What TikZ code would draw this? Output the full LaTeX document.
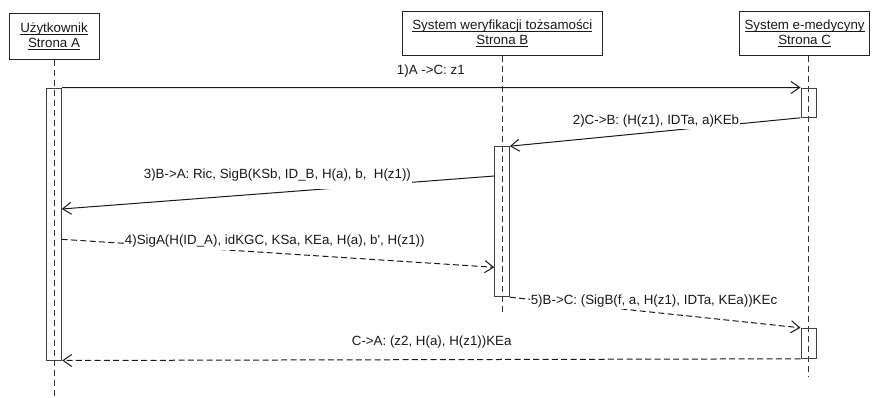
\documentclass[tikz,border=0pt]{standalone}
\usepackage{fontspec}
\setmainfont{Liberation Sans}
\usetikzlibrary{arrows.meta,fit}
\newsavebox\ulbox
\newcommand\ulx[1]{\sbox\ulbox{#1}\rlap{\rule[-1.7pt]{\wd\ulbox}{0.6pt}}\usebox\ulbox}
\begin{document}
\begin{tikzpicture}[x=0.75pt,y=-0.75pt,
  font=\fontsize{10}{11.25}\selectfont,
  hdr/.style={draw=black!85, line width=0.75pt, align=center, inner sep=0pt, text=black!90},
  act/.style={draw=black!75, line width=0.75pt, inner sep=0pt},
  life/.style={draw=black!80, line width=0.75pt, dash pattern=on 4.5pt off 3pt},
  msg/.style={draw=black!90, line width=0.75pt, -{Straight Barb[length=6.5pt,width=9pt]}},
  rmsg/.style={msg, dash pattern=on 4.5pt off 2.5pt},
  lbl/.style={fill=white, inner xsep=0.5pt, inner ysep=1.9pt, text height=7pt, text depth=2pt, text=black!90}]
\useasboundingbox (0,0) rectangle (872,397);

% headers
\node[hdr, minimum width=67.5pt, minimum height=34.5pt] (hA) at (54,36) {\ulx{Użytkownik}\\\ulx{Strona A}};
\node[hdr, minimum width=149.5pt, minimum height=33pt] (hB) at (502.35,33) {\ulx{System weryfikacji tożsamości}\\\ulx{Strona B}};
\node[hdr, minimum width=98pt, minimum height=33pt] (hC) at (804.6,33.8) {\ulx{System e-medycyny}\\\ulx{Strona C}};

% lifeline ends
\coordinate (eA) at (54,397);
\coordinate (eB) at (502,313);
\coordinate (eC) at (808.7,377);
\draw[life] (hA.south -| eA) -- (eA);
\draw[life] (hB.south -| eB) -- (eB);
\draw[life] (hC.south -| eC) -- (eC);

% activations
\node[act, fit={(46.3,88) (61.7,360)}] (aA) {};
\node[act, fit={(494.3,146.7) (509.3,296.7)}] (aB) {};
\node[act, fit={(801,88) (816,117.3)}] (aC1) {};
\node[act, fit={(801,328.3) (816,358.3)}] (aC2) {};

% message end points
\coordinate (m3s) at (494.3,176);
\coordinate (m3e) at (61.7,209);
\coordinate (m4s) at (61.7,239.3);
\coordinate (m4e) at (494.3,267.3);

% messages
\draw[msg] (aA.north east) -- (aC1.north west);
\draw[msg] (aC1.south west) -- (aB.north east);
\draw[msg] (m3s) -- (m3e);
\draw[rmsg] (m4s) -- (m4e);
\draw[rmsg] (aB.south east) -- (aC2.north west);
\draw[rmsg] (aC2.south west) -- (aA.south east);

% labels
\node[lbl] (t1) at (430.8,71) {1)A ->C: z1};
\node[lbl] (t2) at (656,120.7) {2)C->B: (H(z1), IDTa, a)KEb};
\node[lbl, inner ysep=5.85pt] (t3) at (277.4,175) {3)B->A: Ric, SigB(KSb, ID\_B, H(a), b,\ \ H(z1))};
\node[lbl] (t4) at (274.8,241) {4)SigA(H(ID\_A), idKGC, KSa, KEa, H(a), b\textquotesingle, H(z1))};
\node[lbl] (t5) at (654,300.7) {5)B->C: (SigB(f, a, H(z1), IDTa, KEa))KEc};
\node[lbl] (t6) at (431.7,342.5) {C->A: (z2, H(a), H(z1))KEa};
\end{tikzpicture}
\end{document}
